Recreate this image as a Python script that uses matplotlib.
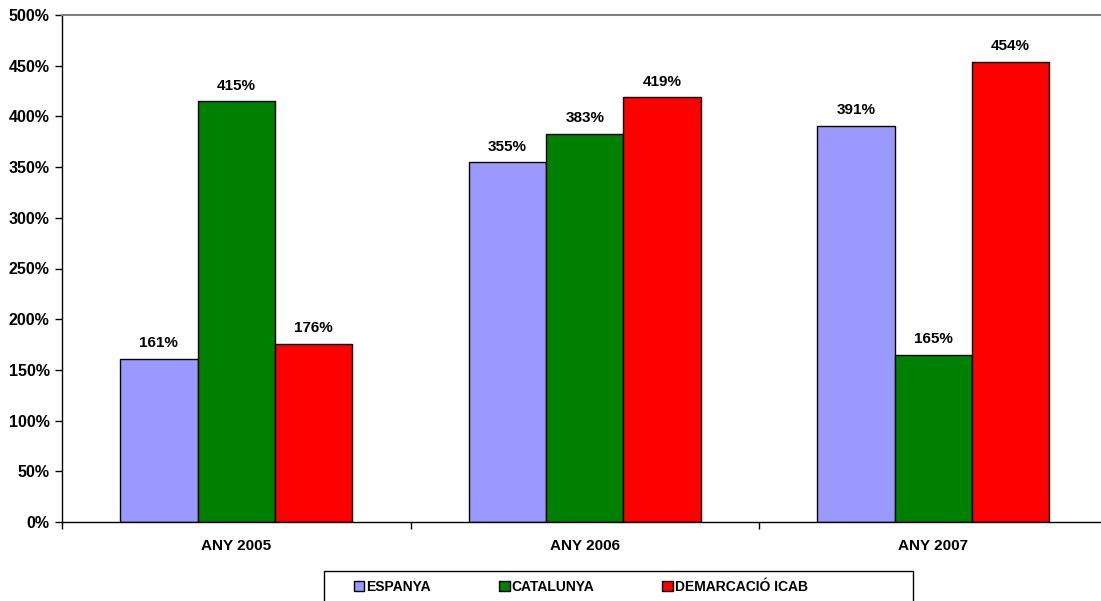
import matplotlib.pyplot as plt
import matplotlib.patches as mpatches
import numpy as np

plt.rcParams['font.family'] = ['Liberation Sans', 'DejaVu Sans']
plt.rcParams['font.weight'] = 'bold'

years = ['ANY 2005', 'ANY 2006', 'ANY 2007']
espanya = [161, 355, 391]
catalunya = [415, 383, 165]
demarcacio = [176, 419, 454]
series_names = ['ESPANYA', 'CATALUNYA', 'DEMARCACIÓ ICAB']
colors = ['#9999FF', '#008000', '#FF0000']

fig = plt.figure(figsize=(11.01, 6.01), dpi=100)
ax = fig.add_axes([62 / 1101, 79 / 601, 1045.5 / 1101, 507 / 601])

x = np.arange(len(years))
width = 2 / 9
for i, (vals, name, col) in enumerate(zip([espanya, catalunya, demarcacio], series_names, colors)):
    b = ax.bar(x + (i - 1) * width, vals, width, color=col, edgecolor='black',
               linewidth=1, label=name)
    ax.bar_label(b, labels=['%d%%' % v for v in vals], padding=6,
                 fontsize=11, fontweight='bold')

ax.set_xlim(-0.5, 2.5)
ax.set_ylim(0, 500)
ax.set_yticks(np.arange(0, 501, 50))
ax.set_yticklabels(['%d%%' % v for v in range(0, 501, 50)], fontsize=11.5, fontweight='bold')
ax.set_xticks(x)
ax.set_xticklabels(years, fontsize=11, fontweight='bold')
ax.set_xticks([-0.5, 0.5, 1.5, 2.5], minor=True)
ax.tick_params(axis='x', which='major', length=0, pad=12)
ax.tick_params(axis='x', which='minor', length=5, direction='out', width=1)
ax.tick_params(axis='y', length=5, direction='out', width=1, pad=4)

ax.spines['right'].set_visible(False)
ax.spines['top'].set_color('#808080')
ax.spines['top'].set_linewidth(1.5)
ax.spines['left'].set_linewidth(1)
ax.spines['bottom'].set_linewidth(1)

# legend box at the bottom
frame = mpatches.Rectangle((324 / 1101, -0.01), (913 - 324) / 1101, 36 / 601,
                           transform=fig.transFigure, facecolor='white', edgecolor='black',
                           linewidth=1, zorder=1)
fig.patches.append(frame)
fig.legend(loc='center', bbox_to_anchor=(581 / 1101, 14 / 601), ncol=3, frameon=False,
           handlelength=0.75, handleheight=0.75, handletextpad=0.15,
           columnspacing=4.9, prop={'weight': 'bold', 'size': 10})

plt.savefig('out.png', dpi=100)
